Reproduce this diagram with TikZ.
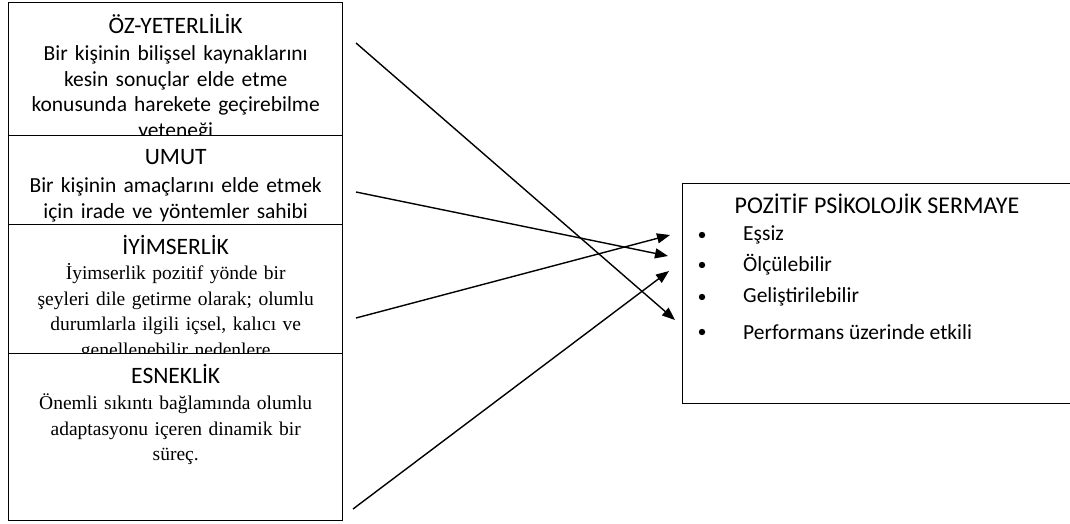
\documentclass[tikz,border=0pt]{standalone}
\usepackage{fontspec}
\setmainfont{Carlito}
\newfontfamily\timesfont{Liberation Serif}
\usetikzlibrary{arrows.meta, positioning}

\begin{document}
\begin{tikzpicture}[
    x=1pt, y=-1pt,
    box/.style={draw, line width=1.4pt, fill=white, rectangle, anchor=north west, inner sep=0pt},
    txt/.style={align=center, text width=330pt, inner sep=0pt, anchor=north, font=\fontsize{21.5}{25.5}\selectfont},
    serif/.style={font=\fontsize{19.5}{25.5}\selectfont\timesfont},
    arrow/.style={line width=1.4pt, -{Triangle[length=13pt, width=10pt]}}
]
\useasboundingbox (0,0) rectangle (1070,524);

% Left column
\node (oz) [box, minimum width=334pt, minimum height=133pt] at (8,2) {};
\node (oztxt) [txt] at ([yshift=-12pt]oz.north) {{\fontsize{23.5}{25.5}\selectfont ÖZ-YETERLİLİK}\\[2pt]
    Bir kişinin bilişsel kaynaklarını\\ kesin sonuçlar elde etme\\
    konusunda harekete geçirebilme\\ yeteneği};
\node (umut) [box, minimum width=334pt, minimum height=89pt] at (8,135) {};
\node (umuttxt) [txt] at ([yshift=-14pt]umut.north) {{\fontsize{23.5}{25.5}\selectfont UMUT}\\[3pt]
    Bir kişinin amaçlarını elde etmek\\ için irade ve yöntemler sahibi};
\node (iyim) [box, minimum width=334pt, minimum height=129pt] at (8,224) {};
\node (iyimtxt) [txt, serif] at ([yshift=-11pt]iyim.north) {{\fontsize{23.5}{25.5}\rmfamily İYİMSERLİK}\\
    İyimserlik pozitif yönde bir\\ şeyleri dile getirme olarak; olumlu\\
    durumlarla ilgili içsel, kalıcı ve\\ genellenebilir nedenlere};
\node (esnek) [box, minimum width=334pt, minimum height=167pt] at (8,353) {};
\node (esnektxt) [txt, serif] at ([yshift=-11pt]esnek.north) {{\fontsize{23.5}{25.5}\rmfamily ESNEKLİK}\\[1pt]
    Önemli sıkıntı bağlamında olumlu\\ adaptasyonu içeren dinamik bir\\ süreç.};

% Right box
\node (psy) [box, minimum width=400pt, minimum height=220pt] at (682,183) {};
\node (psytxt) [font=\fontsize{24}{25}\selectfont, anchor=center] at (877,204) {POZİTİF PSİKOLOJİK SERMAYE};
\foreach \name/\yy/\item in {essiz/235/Eşsiz, olcu/265/Ölçülebilir, gelis/297/Geliştirilebilir, perf/332/Performans üzerinde etkili} {
    \fill (702,\yy) circle (3.2pt);
    \node (\name) [font=\fontsize{21.5}{25}\selectfont, anchor=west, inner sep=0pt] at (743,\yy) {\item};
}

% Arrows
\coordinate (ozout) at (356,43);
\coordinate (umutout) at (356,192);
\coordinate (iyimout) at (356,318);
\coordinate (esnekout) at (353,509);
\coordinate (ozin) at (675,320);
\coordinate (umutin) at (668,256);
\coordinate (iyimin) at (670,235);
\coordinate (esnekin) at (669,271);
\draw[arrow] (ozout) -- (ozin);
\draw[arrow] (umutout) -- (umutin);
\draw[arrow] (iyimout) -- (iyimin);
\draw[arrow] (esnekout) -- (esnekin);

\end{tikzpicture}
\end{document}
